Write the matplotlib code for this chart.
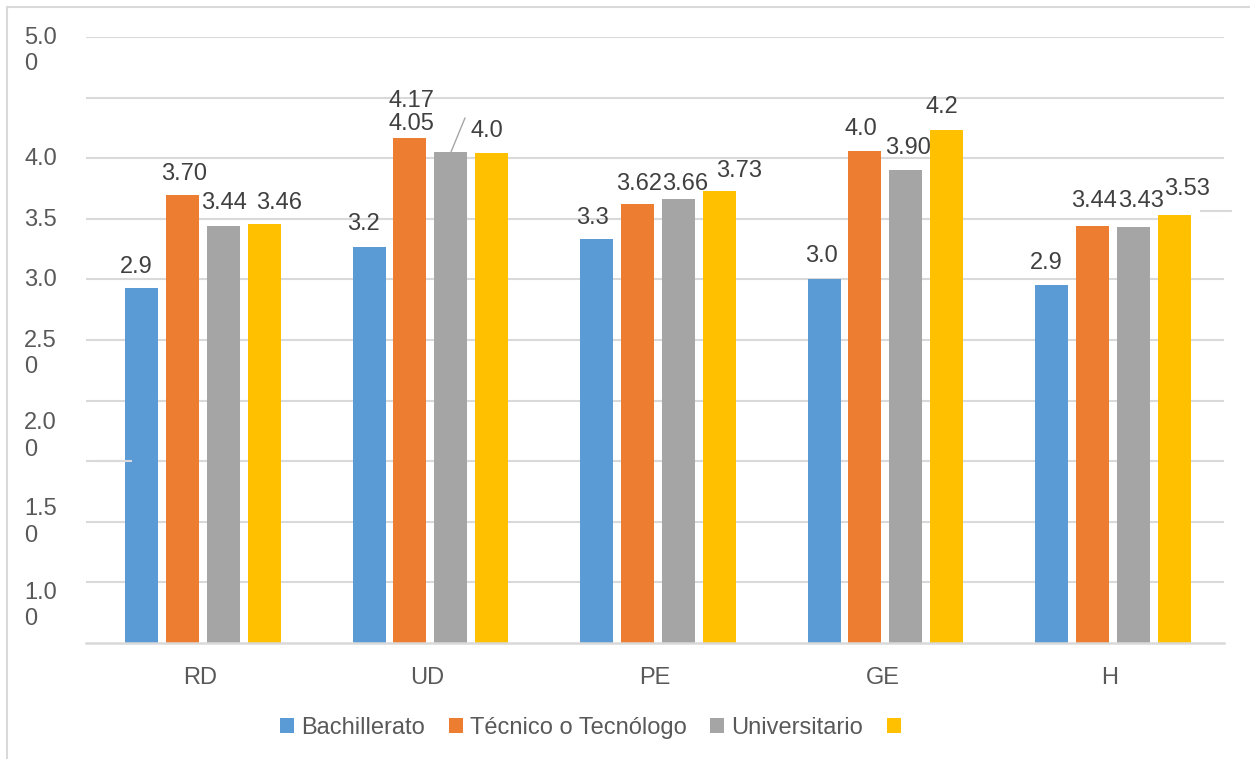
import matplotlib.pyplot as plt
from matplotlib.patches import Patch, Rectangle

plt.rcParams['font.family'] = ['Liberation Sans', 'DejaVu Sans']

categories = ["RD", "UD", "PE", "GE", "H"]
series_names = ["Bachillerato", "Técnico o Tecnólogo", "Universitario", ""]
bachillerato = [2.93, 3.27, 3.33, 3.00, 2.95]
tecnico = [3.70, 4.17, 3.62, 4.06, 3.44]
universitario = [3.44, 4.05, 3.66, 3.90, 3.43]
cuarto = [3.46, 4.04, 3.73, 4.23, 3.53]
# data labels as they are printed on the chart (some are cut short)
labels_bachillerato = ["2.9", "3.2", "3.3", "3.0", "2.9"]
labels_tecnico = ["3.70", "4.17", "3.62", "4.0", "3.44"]
labels_universitario = ["3.44", "4.05", "3.66", "3.90", "3.43"]
labels_cuarto = ["3.46", "4.0", "3.73", "4.2", "3.53"]
ytick_values = [5.0, 4.0, 3.5, 3.0, 2.5, 2.0, 1.5, 1.0]
ytick_labels = ["5.0\n0", "4.0", "3.5", "3.0", "2.5\n0", "2.0\n0", "1.5\n0", "1.0\n0"]

colors = ["#5B9BD5", "#ED7D31", "#A5A5A5", "#FFC000"]
grid_color = "#D9D9D9"
text_color = "#595959"
label_color = "#404040"

# label nudges in pixels (dx, gap above bar top), per series then category
label_dx = [[-5, -6, -4, -3, -5],
            [2, 2, 2, -4, 2],
            [1, -39, 7, 2, 8],
            [15, -5, 20, -5, 13]]
label_gap = [[15, 17, 15, 17, 16],
             [15, 31, 14, 16, 19],
             [17, 22, 9, 16, 20],
             [15, 16, 14, 17, 20]]
# where the y labels ended up (first line sits on this value)
ylabel_pos = [5.0, 4.0, 3.5, 3.0, 2.5, 1.82, 1.11, 0.42]

fig = plt.figure(figsize=(12.5, 7.59), dpi=100)
ax = fig.add_axes([86.25 / 1250, 116 / 759, 1137.5 / 1250, 606 / 759])

all_values = [bachillerato, tecnico, universitario, cuarto]
all_labels = [labels_bachillerato, labels_tecnico, labels_universitario, labels_cuarto]
step = 0.18
width = 0.145
shift = 0.013  # bar groups sit a little right of the category label
for s, values in enumerate(all_values):
    xs = [i + (s - 1.5) * step + shift for i in range(len(categories))]
    ax.bar(xs, values, width=width, color=colors[s], zorder=2)
    for i, v in enumerate(values):
        ax.annotate(all_labels[s][i], xy=(xs[i], v), xytext=(label_dx[s][i], label_gap[s][i]),
                    textcoords='offset pixels', ha='center', va='baseline',
                    fontsize=17, color=label_color, zorder=4)

# leader line for the moved label in UD
ux = 1 + 0.5 * step + shift
ax.plot([ux, ux + 14 / 227.5], [universitario[1], universitario[1] + 34 / 121.2],
        color="#A6A6A6", lw=1, zorder=3)

ax.set_xlim(-0.5, 4.5)
ax.set_ylim(0, 5)
for g in [0.5 * k for k in range(1, 11)]:
    ax.axhline(g, color=grid_color, lw=1.5, zorder=1)
# small glitches in the gridlines of the original
ax.plot([4 + 1.5 * step + shift + width / 2 + 0.003, 4.5], [3.5, 3.5], color="white", lw=2.5, zorder=1.5)
ax.plot([4.40, 4.53], [3.564, 3.564], color=grid_color, lw=1.5, zorder=1.5, clip_on=False)
ax.plot([-0.45, -0.303], [1.5, 1.5], color=grid_color, lw=1.5, zorder=3)

for sp in ["left", "right", "top"]:
    ax.spines[sp].set_visible(False)
ax.spines["bottom"].set_color(grid_color)
ax.spines["bottom"].set_linewidth(1.8)
ax.set_xticks(range(len(categories)))
ax.set_xticklabels(categories, fontsize=17, color=text_color)
ax.tick_params(axis='x', length=0, pad=17)
ax.set_yticks([])

for t, y in zip(ytick_labels, ylabel_pos):
    ax.annotate(t, xy=(-0.0547, y), xycoords=ax.get_yaxis_transform(),
                xytext=(0, 10), textcoords='offset pixels', ha='left', va='top',
                fontsize=17, color=text_color, linespacing=1.25, multialignment='left')

handles = [Patch(facecolor=c) for c in colors]
leg = fig.legend(handles, series_names, loc='center', bbox_to_anchor=(594 / 1250, 31 / 759),
                 ncol=4, frameon=False, fontsize=17, handlelength=0.6, handleheight=0.6,
                 handletextpad=0.3, columnspacing=1.0, borderaxespad=0)
for t in leg.get_texts():
    t.set_color(text_color)

# chart frame, only the left and top sides fall inside the picture
fig.patches.append(Rectangle((7 / 1250, -0.1), 1.2, 752 / 759 + 0.1, transform=fig.transFigure,
                             fill=False, edgecolor=grid_color, lw=1.5))

fig.savefig("out.png", dpi=100)
